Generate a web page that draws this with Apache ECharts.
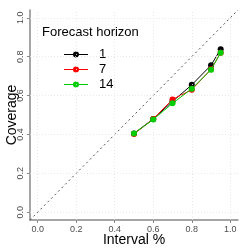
<!DOCTYPE html>
<html><head><meta charset="utf-8">
<script src="https://cdn.jsdelivr.net/npm/echarts@6/dist/echarts.min.js"></script>
<style>html,body{margin:0;padding:0;background:#fff}#c{width:249px;height:249px}</style>
</head><body><div id="c"></div>
<script>
const intervals = [0.5, 0.6, 0.7, 0.8, 0.9, 0.95];
const h1 = [0.405, 0.48, 0.57, 0.655, 0.756, 0.838];
const h7 = [0.402, 0.48, 0.58, 0.63, 0.735, 0.82];
const h14 = [0.405, 0.477, 0.56, 0.635, 0.733, 0.82];
const seriesNames = ['1', '7', '14'];
const seriesColors = ['#000000', '#ff0000', '#00cd00'];
const tickValues = [0, 0.2, 0.4, 0.6, 0.8, 1.0];
const tickLabels = ['0.0', '0.2', '0.4', '0.6', '0.8', '1.0'];
const diag = [[-0.04, -0.04], [1.04, 1.04]];
const FONT = 'Liberation Sans, Arial, sans-serif';
const LEGEND_ICON = 'path://M0,2.5 L24,2.5 L24,3.5 L0,3.5 Z M9,3 A3,3 0 1,1 15,3 A3,3 0 1,1 9,3 Z';

const chart = echarts.init(document.getElementById('c'), null, {renderer: 'canvas'});
const vals = [h1, h7, h14];
function fmt(v){ const i = tickValues.findIndex(t => Math.abs(t - v) < 1e-9); return i >= 0 ? tickLabels[i] : ''; }
const axisCommon = {
  type: 'value', min: -0.04, max: 1.04,
  axisLine: {show: true, onZero: false, lineStyle: {color: '#888', width: 1.5}},
  axisTick: {show: true, customValues: tickValues, length: 3, lineStyle: {color: '#888'}},
  axisLabel: {customValues: tickValues, formatter: fmt, color: '#4d4d4d', fontSize: 9, fontFamily: FONT},
  splitLine: {show: false},
  nameMoveOverlap: false,
  nameTextStyle: {color: '#000', fontSize: 14, fontFamily: FONT}
};
const gridLines = tickValues.map(v => ({xAxis: v})).concat(tickValues.map(v => ({yAxis: v})));
chart.setOption({
  animation: false,
  grid: {left: 30, right: 11, top: 10, bottom: 29, containLabel: false, outerBoundsMode: 'none'},
  xAxis: Object.assign({}, axisCommon, {name: 'Interval %', nameLocation: 'middle', nameGap: 13,
    axisLabel: Object.assign({}, axisCommon.axisLabel, {margin: 5})}),
  yAxis: Object.assign({}, axisCommon, {name: 'Coverage', nameLocation: 'middle', nameGap: 11,
    axisLabel: Object.assign({}, axisCommon.axisLabel, {rotate: 90, margin: 5})}),
  legend: {
    orient: 'vertical', left: 59, top: 43, itemWidth: 24, itemHeight: 6, itemGap: 2,
    data: seriesNames.map((n, k) => ({name: n, icon: LEGEND_ICON,
      itemStyle: {color: seriesColors[k], borderColor: seriesColors[k], borderWidth: 0, opacity: 1},
      lineStyle: {color: seriesColors[k], width: 0}})),
    textStyle: {fontSize: 13, color: '#000', fontFamily: FONT, padding: [0, 0, 0, 6]}
  },
  graphic: [{type: 'text', left: 42, top: 26, style: {text: 'Forecast horizon', fontSize: 13, fill: '#000', fontFamily: FONT}}],
  series: [
    {name: 'diag', type: 'line', data: diag, symbol: 'none', silent: true, z: 1,
     lineStyle: {color: '#555', width: 1, type: [2, 3]},
     markLine: {silent: true, symbol: 'none', label: {show: false},
       lineStyle: {color: '#e3e3e3', width: 0.8, type: [1, 2]}, data: gridLines}}
  ].concat(seriesNames.map((n, k) => ({
    name: n, type: 'line', z: 3 + k,
    data: intervals.map((x, i) => [x, vals[k][i]]),
    symbol: 'circle', symbolSize: 6,
    itemStyle: {color: seriesColors[k], borderColor: seriesColors[k], borderWidth: 0},
    lineStyle: {color: seriesColors[k], width: 1, type: 'solid'}
  })))
});
</script></body></html>
